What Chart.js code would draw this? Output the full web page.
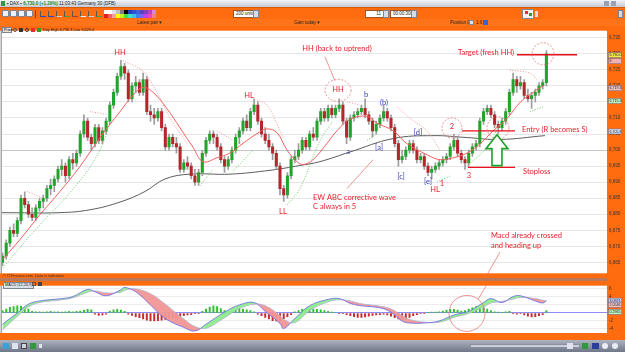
<!DOCTYPE html>
<html>
<head>
<meta charset="utf-8">
<title>DAX 30s</title>
<script src="https://cdn.jsdelivr.net/npm/chart.js@4.4.1/dist/chart.umd.min.js"></script>
<style>
body{margin:0;width:625px;height:352px;overflow:hidden;background:#ff6c10;font-family:"Liberation Sans",Arial,sans-serif;position:relative}
div,span,canvas{position:absolute;box-sizing:border-box}
.t{font-size:4.5px;line-height:5px;white-space:nowrap;color:#222}
.ico{width:7px;height:7px;background:#eef0f6;border:1px solid #7d8496;border-radius:1px}
.box{background:#fff;border:1px solid #9a5522;font-size:4.5px;line-height:6px;padding-left:2px;color:#222;white-space:nowrap}
.drop{width:6px;height:8px;background:#d8dce6;border:1px solid #7d8496}
</style>
</head>
<body>
<div style="left:0;top:0;width:625px;height:7px;background:linear-gradient(#f2f4f8,#c4cad6)">
  <span style="left:1px;top:1px;width:4px;height:5px;background:#2f9a3a"></span>
  <span class="t" style="left:7px;top:1px">&#9642; DAX &#9642; <b style="color:#1b8c2a">6,730.0 (+1.29%)</b> 11:03:43 Germany 30 (DFB)</span>
  <span style="left:604px;top:1px;width:5px;height:5px;background:#9aa2b2"></span>
  <span style="left:611px;top:1px;width:5px;height:5px;background:#9aa2b2"></span>
</div>
<div id="toolbar" style="left:0;top:7px;width:625px;height:12px;background:#ff6c10;border-top:1px solid #d85a00"></div>
<div style="left:0;top:19px;width:625px;height:7px;background:#ff7418">
  <span class="t" style="left:137px;top:1px">Latest pair &#9662;</span>
  <span class="t" style="left:294px;top:1px">Gain today &#9662;</span>
  <span class="t" style="left:450px;top:1px">Position 0</span>
  <span style="left:469px;top:1px;width:5px;height:5px;background:#dfe3ee;border:1px solid #7d8496"></span>
  <span class="t" style="left:476px;top:1px">1:6</span>
  <span style="left:483px;top:1px;width:5px;height:5px;background:#3a62c8"></span>
</div>

<canvas id="price" width="625" height="252" style="left:0;top:26px"></canvas>
<div style="left:0;top:278px;width:607px;height:3px;background:#b9785a"></div>
<canvas id="macd" width="625" height="59" style="left:0;top:281px"></canvas>

<div style="left:2px;top:27px;width:10px;height:6px;background:#dde1ea;border:1px solid #7d8496;font-size:3.8px;line-height:4px;padding-left:1px">Price</div>
<span style="left:13px;top:28px;width:4px;height:4px;border:1px solid #555;border-radius:2px"></span>
<span style="left:19px;top:28px;width:4px;height:4px;background:#333"></span>
<span style="left:25px;top:28px;width:4px;height:4px;border:1px solid #333;border-radius:2px"></span>
<span style="left:31px;top:28px;width:4px;height:4px;background:#e03030"></span>
<span style="left:37px;top:28px;width:4px;height:4px;background:#2aa02a"></span>
<span class="t" style="left:43px;top:28px;font-size:3.8px">Day High 6,736.3 Low 6,629.4</span>
<span class="t" style="left:3px;top:274px;font-size:3.8px;color:#333">&#169; IT-Finance.com. Data is indicative</span>
<span class="t" style="left:3px;top:282px;font-size:3.8px;background:#dde1ea;border:1px solid #7d8496;padding:0 1px">MACD (12,26,9)</span>
<span style="left:32px;top:282px;width:4px;height:4px;border:1px solid #555"></span>
<span style="left:38px;top:282px;width:4px;height:4px;background:#444"></span>

<div id="status" style="left:0;top:340px;width:625px;height:12px;background:linear-gradient(#aeb3c0,#6f7688)">
  <span style="left:3px;top:3px;width:6px;height:6px;background:#3aa0d8"></span>
  <span style="left:12px;top:3px;width:6px;height:6px;background:#dfe3ee"></span>
  <span style="left:21px;top:3px;width:6px;height:6px;background:#cfd3de;border:1px solid #444"></span>
  <span style="left:30px;top:3px;width:6px;height:6px;background:#2f9a3a"></span>
  <span style="left:39px;top:4px;width:3px;height:4px;background:#dfe3ee"></span>
  <span style="left:470px;top:4px;width:110px;height:4px;background:#c9ced9;border:1px solid #8a90a0"></span>
  <span style="left:567px;top:3px;width:6px;height:6px;background:#dfe3ee"></span>
  <span style="left:582px;top:3px;width:6px;height:6px;background:#2f9a3a"></span>
  <span style="left:592px;top:3px;width:7px;height:6px;background:#2a3f9a"></span>
  <span style="left:602px;top:3px;width:6px;height:6px;background:#e8ecf4;border-radius:3px"></span>
  <span style="left:612px;top:3px;width:6px;height:6px;background:#e8ecf4;border-radius:3px"></span>
</div>

<script>
Chart.defaults.font.family = '"Liberation Sans", Arial, sans-serif';
Chart.defaults.animation = false;

// 30 second candles, time in minutes after 09:00
const firstBar = 52, barStep = 0.5;
const opens = [
  6665,6667,6671,6675,6674,6678,6685,6683,6680,6679, 6682,6684,6685,6688,6689,6691,6694,6695,6692,6697,
  6696,6699,6705,6709,6704,6702,6707,6703,6706,6709, 6714,6718,6723,6726,6724,6716,6720,6721,6718,6722,
  6712,6711,6710,6712,6707,6701,6704,6702,6701,6694, 6696,6695,6692,6690,6693,6699,6703,6705,6704,6701,
  6697,6695,6697,6700,6704,6706,6709,6707,6712,6714, 6709,6705,6703,6701,6699,6695,6688,6686,6692,6697,
  6698,6700,6703,6701,6705,6704,6709,6712,6710,6713, 6711,6713,6714,6709,6704,6710,6711,6712,6713,6711,
  6709,6706,6708,6710,6712,6710,6707,6702,6697,6698, 6700,6702,6700,6697,6698,6695,6693,6694,6695,6696,
  6697,6698,6701,6703,6699,6697,6696,6699,6701,6702, 6709,6712,6713,6711,6708,6707,6709,6712,6718,6722,
  6720,6721,6717,6716,6717,6718,6720,6721];
const highs = [
  6668,6672,6676,6677,6679,6686,6687,6684,6682,6683, 6685,6686,6689,6691,6692,6695,6697,6696,6698,6699,
  6700,6706,6711,6710,6705,6708,6708,6707,6710,6715, 6719,6724,6728,6727,6725,6721,6723,6722,6724,6723,
  6714,6713,6713,6713,6708,6705,6705,6704,6702,6697, 6698,6696,6694,6694,6700,6704,6706,6706,6705,6702,
  6698,6698,6701,6705,6707,6710,6711,6713,6716,6715, 6710,6707,6705,6702,6700,6696,6689,6693,6698,6700,
  6702,6704,6704,6706,6707,6710,6713,6713,6714,6714, 6714,6716,6715,6710,6711,6712,6713,6714,6716,6712,
  6710,6709,6711,6714,6713,6711,6708,6703,6700,6701, 6703,6703,6701,6699,6699,6696,6695,6696,6697,6698,
  6699,6702,6705,6704,6700,6698,6700,6702,6703,6710, 6713,6714,6714,6712,6709,6710,6713,6719,6724,6723,
  6723,6722,6719,6718,6719,6721,6722,6731];
const lows = [
  6664,6666,6670,6673,6673,6677,6682,6679,6678,6678, 6681,6682,6684,6686,6687,6690,6692,6690,6691,6694,
  6695,6698,6704,6703,6700,6701,6702,6702,6705,6708, 6713,6717,6722,6722,6715,6715,6718,6717,6717,6711,
  6709,6708,6709,6706,6700,6700,6701,6699,6693,6693, 6694,6691,6689,6689,6692,6698,6702,6702,6700,6696,
  6693,6694,6696,6699,6702,6705,6706,6706,6711,6708, 6704,6702,6700,6697,6694,6686,6684,6685,6691,6696,
  6697,6699,6700,6700,6703,6703,6708,6709,6709,6710, 6710,6712,6708,6702,6703,6709,6710,6711,6710,6708,
  6704,6705,6707,6709,6709,6706,6701,6695,6696,6697, 6699,6699,6696,6696,6694,6692,6691,6693,6694,6695,
  6696,6697,6700,6698,6696,6694,6695,6698,6700,6701, 6708,6711,6710,6707,6705,6706,6708,6711,6717,6718,
  6719,6716,6715,6713,6715,6717,6719,6720];
const closes = [
  6667,6671,6675,6674,6678,6685,6683,6680,6679,6682, 6684,6685,6688,6689,6691,6694,6695,6692,6697,6696,
  6699,6705,6709,6704,6702,6707,6703,6706,6709,6714, 6718,6723,6726,6724,6716,6720,6721,6718,6722,6712,
  6711,6710,6712,6707,6701,6704,6702,6701,6694,6696, 6695,6692,6690,6693,6699,6703,6705,6704,6701,6697,
  6695,6697,6700,6704,6706,6709,6707,6712,6714,6709, 6705,6703,6701,6699,6695,6688,6686,6692,6697,6698,
  6700,6703,6701,6705,6704,6709,6712,6710,6713,6711, 6713,6714,6709,6704,6710,6711,6712,6713,6711,6709,
  6706,6708,6710,6712,6710,6707,6702,6697,6698,6700, 6702,6700,6697,6698,6695,6693,6694,6695,6696,6697,
  6698,6701,6703,6699,6697,6696,6699,6701,6702,6709, 6712,6713,6711,6708,6707,6709,6712,6718,6722,6720,
  6721,6717,6716,6717,6718,6720,6721,6730];
const macdHist = [
  0.6,1.0,1.4,1.6,1.8,1.7,1.4,1.0, 0.4,0.3,0.3,0.2,0.3,0.4,0.3,0.3,0.2,0.3,0.4,0.3,0.4,0.5,
  0.7,0.9,0.8, -0.3,-0.6,-0.5,-0.3, 0.5,0.8,0.9,0.7,0.4,
  -0.3,-0.6,-0.9,-1.2,-1.5,-1.8,-2.0,-2.0,-1.9,-1.8,-1.6,-1.4,-1.3,-1.1,-0.9,-0.7,-0.5,-0.4,-0.2,-0.1,
  0.4,1.0,1.5,1.8,1.6,1.1,0.6, 0.5,0.8,1.0,1.1,1.0,0.8,0.6,0.3,
  -0.3,-0.7,-1.1,-1.5,-1.9,-2.0,-1.8,-1.4,-0.9,-0.4, 0.3,0.6,0.9,1.1,1.1,1.0,0.9,0.8,0.6,0.4,0.2,
  0.1,-0.1,-0.2, -0.4,-0.7,-0.9,-1.1,-1.1,-1.0,-0.8,-0.6,-0.5,-0.4, -0.3,-0.5,-0.8,
  -1.2,-1.5,-1.6,-1.4,-1.1,-0.7,-0.4, -0.2,-0.1,0.1,0.2,0.2,0.3, 0.5,0.7,0.9,0.9,0.7,0.5,
  0.6,1.0,1.3,1.6,1.5,1.3,1.0,0.6, 0.3,0.2,0.1,0.3,0.4, -0.2,-0.3,-0.2, -0.5,-0.8,-1.0,-0.9,-0.7,-0.4, 0.6];

// indicator lines: [minute, value]
const maFast = [[52.07,6666.1],[54.36,6672.1],[57.07,6679.9],[59.77,6687.1],[62.47,6694.9],[65.18,6703.9],[67.88,6712],
  [69.64,6717.1],[70.99,6719.5],[72.34,6718],[74.23,6712.9],[75.99,6706.9],[77.74,6700.9],[79.09,6696.4],[80.99,6697.6],
  [82.74,6699.1],[84.5,6702.1],[86.39,6705.1],[87.74,6706.6],[89.09,6705.4],[90.45,6700],[91.8,6696.4],[92.61,6695.5],
  [93.96,6697],[95.85,6702.1],[97.2,6706],[98.96,6709.6],[101.3,6710.5],[102.6,6708.4],[104.8,6706],[106.6,6702.1],
  [109.4,6698.5],[111.1,6697],[112.9,6697.6],[114.8,6699.1],[116.6,6702.1],[118.3,6706],[120.2,6709.9],[122,6715],
  [123.7,6718],[125.1,6720.1]];
const maSlow = [[51.93,6680.5],[59.77,6680.5],[63.82,6681.4],[67.88,6683.8],[71.26,6687.1],[73.96,6691],[77.34,6692.5],
  [82.74,6692.5],[88.15,6693.7],[92.2,6695.2],[94.9,6696.4],[98.96,6699.4],[104.8,6703.6],[110.2,6704.5],[114.8,6703.9],
  [119.2,6703.3],[125.3,6704.5]];
const sarBelow = [
  [[52.07,6663.4],[55.04,6671.5],[57.74,6678.4],[60.45,6685],[63.15,6692.5],[65.18,6700],[66.5,6708]],
  [[78.69,6688.9],[80.45,6694]],
  [[83.15,6693.4],[85.85,6700]],
  [[90.45,6682.9],[92.2,6688],[94.91,6703],[96.66,6709]],
  [[101.26,6703],[102.61,6705.1]],
  [[110.72,6690.1],[112.47,6691.9]],
  [[114.77,6694.9],[117.47,6700.9],[119.23,6708.1]],
  [[123.28,6712],[125.04,6713.5]]];
const sarAbove = [
  [[55.31,6687.1],[57.47,6685]],
  [[63.82,6712],[66.12,6711.1]],
  [[68.28,6727.9],[70.99,6724.6],[72.88,6718],[74.64,6709.9],[76.93,6702.1]],
  [[80.99,6706],[83.15,6703]],
  [[86.39,6715.6],[87.74,6714.1],[89.09,6708.1],[89.91,6703.9]],
  [[98.55,6715],[100.3,6714.1]],
  [[105.3,6713.5],[107.07,6709.9],[109.36,6706],[111.12,6700]],
  [[120.58,6724.9],[123.28,6724],[124.23,6721.9]]];
const targetLevel = [[121.53,6729.7],[129.64,6729.7]];
const entryLevel = [[114.09,6706],[121.26,6706]];
const stopLevel = [[114.9,6694.6],[121.26,6694.6]];

const macdTimes = [52,54,55.5,57,60,61.5,63.5,64.5,66,68,68.5,70,72,74,76.5,78,79.5,82,84,86,87.5,89.5,90,91.5,93.5,
  96,97.5,99,100.5,103,104.5,106,107,109,111,113,115,117,118,119.5,121,122,124,125,125.5];
const macdLine = [-2.8,0.0,2.2,3.0,3.6,4.1,5.9,5.3,4.3,5.8,6.4,5.3,2.0,-1.4,-3.6,-4.5,-2.8,0.2,2.0,2.6,0.4,-2.6,-3.9,-1.4,1.8,
  3.4,3.6,2.4,1.8,1.3,0.2,-2.0,-2.5,-2.5,-2.0,-0.5,0.4,2.6,3.6,2.6,4.1,4.3,3.0,2.5,3.0];
const signalLine = [-4.2,-0.8,1.5,2.6,3.3,3.8,5.2,5.5,5.0,5.2,5.7,6.0,4.8,2.2,-1.5,-3.4,-3.8,-1.2,1.1,2.2,1.8,-0.6,-1.6,-2.4,0.6,
  2.8,3.3,3.0,2.3,1.7,1.0,-0.6,-1.6,-2.3,-2.3,-1.1,-0.1,1.5,2.5,2.9,3.5,3.9,3.6,3.2,3.1];

const viewMin = 51.93, viewMax = 133.69;
const ORANGE = '#ff6c10', RED = '#e8202c', BLUE = '#3c3cb4';

// chart notes (text, minute, price, colour, align)
const notes = [
  ['HH', 67.88, 6730.3, RED, 'center'], ['HL', 85.31, 6717.1, RED, 'center'], ['LL', 89.9, 6680.8, RED, 'center'],
  ['HH (back to uptrend)', 97.2, 6731.5, RED, 'center'], ['HH', 97.34, 6718.9, RED, 'center'],
  ['b', 101.12, 6717.4, BLUE, 'center'], ['(b)', 103.55, 6714.7, BLUE, 'center'], ['a', 98.69, 6699.4, BLUE, 'center'],
  ['[a]', 102.88, 6700.9, BLUE, 'center'], ['[d]', 108.15, 6705.4, BLUE, 'center'], ['[c]', 105.85, 6691.6, BLUE, 'center'],
  ['[e]', 109.5, 6690.1, BLUE, 'center'], ['1', 111.39, 6689.5, RED, 'center'], ['HL', 110.45, 6687.7, RED, 'center'],
  ['2', 112.74, 6707.2, RED, 'center'], ['3', 115.04, 6692.2, RED, 'center'],
  ['EW ABC corrective wave', 93.96, 6685.3, RED, 'left'], ['C always in 5', 93.96, 6682.3, RED, 'left'],
  ['Target (fresh HH)', 117.34, 6730.3, RED, 'center'], ['Entry (R becomes S)', 122.2, 6706.3, RED, 'left'],
  ['Stoploss', 122.34, 6693.4, RED, 'left'],
  ['Macd already crossed', 118.0, 6673.3, RED, 'left'], ['and heading up', 118.0, 6670.3, RED, 'left']];
const circles = [[97.34, 6718.6, 13, 11], [112.74, 6706.9, 10, 10], [118.96, 6706.9, 11, 11], [125.04, 6730, 11, 11]];
const pointers = [[95.57, 6729.1, 96.92, 6721.6], [98.55, 6688, 102.07, 6697], [119.23, 6668.2, 116.26, 6656.2]];
const arrowTip = [118.82, 6704.8];
const priceBadges = [[6729.6, '#f4e84a', '6,730.0'], [6727.7, '#f2b0b0', '6'], [6719.3, '#ecc4c4', '6,719.3'],
  [6715.3, '#bdf2bd', '6,715.3'], [6705.8, '#d8dcf0', '6,705.8']];
const macdBadges = [[3.1, '#c8ccf6', '3.0921'], [2.05, '#f4c4c4', '2.0546'], [0.3, '#bdf2bd', '0.2965']];

const barTimes = opens.map((_, i) => firstBar + i * barStep);
const xy = arr => arr.map(([x, y]) => ({x, y}));
const hhmm = v => {
  const m = Math.round(v);
  return String(9 + Math.floor(m / 60)).padStart(2, '0') + ':' + String(m % 60).padStart(2, '0');
};

const frame = {
  id: 'frame',
  beforeDraw(chart) {
    const {ctx, chartArea: a, width, height} = chart;
    ctx.save();
    ctx.fillStyle = ORANGE;
    ctx.fillRect(0, 0, width, height);
    ctx.fillStyle = '#fff';
    ctx.fillRect(a.left, a.top, a.right - a.left, a.bottom - a.top);
    ctx.fillStyle = '#d4d4d4';
    ctx.fillRect(0, a.top, a.left, a.bottom - a.top);
    ctx.fillStyle = '#888';
    ctx.fillRect(a.left - 0.6, a.top, 0.6, a.bottom - a.top);
    ctx.restore();
  }
};

function badges(list) {
  return {
    id: 'badges',
    afterDraw(chart) {
      const {ctx, chartArea: a, scales: {y}} = chart;
      ctx.save();
      ctx.font = '3.6px "Liberation Sans"';
      ctx.textBaseline = 'middle';
      list.forEach(([v, fill, txt]) => {
        const py = y.getPixelForValue(v);
        ctx.fillStyle = fill;
        ctx.fillRect(a.right + 1.5, py - 2.5, 13, 5);
        ctx.strokeStyle = '#6c6c8c';
        ctx.lineWidth = 0.5;
        ctx.strokeRect(a.right + 1.5, py - 2.5, 13, 5);
        ctx.fillStyle = '#222';
        ctx.fillText(txt, a.right + 2.5, py + 0.2);
      });
      ctx.restore();
    }
  };
}

const priceNotes = {
  id: 'priceNotes',
  afterDatasetsDraw(chart) {
    const {ctx, scales: {x, y}} = chart;
    const px = t => x.getPixelForValue(t), py = p => y.getPixelForValue(p);
    ctx.save();
    ctx.strokeStyle = '#e46a6a';
    ctx.lineWidth = 0.7;
    pointers.forEach(([t1, p1, t2, p2]) => {
      ctx.beginPath(); ctx.moveTo(px(t1), py(p1)); ctx.lineTo(px(t2), py(p2)); ctx.stroke();
    });
    ctx.setLineDash([2, 1.5]);
    circles.forEach(([t, p, rx, ry]) => {
      ctx.beginPath(); ctx.ellipse(px(t), py(p), rx, ry, 0, 0, Math.PI * 2); ctx.stroke();
    });
    ctx.setLineDash([]);
    // hollow green arrow under the entry
    const ax = px(arrowTip[0]), ay = py(arrowTip[1]);
    const shape = [[0, 0], [11, 14], [5, 14], [5, 31], [-5, 31], [-5, 14], [-11, 14]];
    ctx.beginPath();
    shape.forEach(([dx, dy], i) => i ? ctx.lineTo(ax + dx, ay + dy) : ctx.moveTo(ax + dx, ay + dy));
    ctx.closePath();
    ctx.fillStyle = '#fff';
    ctx.fill();
    ctx.strokeStyle = '#1fa02a';
    ctx.lineWidth = 1.6;
    ctx.stroke();
    ctx.font = '7.5px Lato';
    ctx.textBaseline = 'middle';
    notes.forEach(([txt, t, p, color, align]) => {
      ctx.fillStyle = color;
      ctx.textAlign = align;
      ctx.fillText(txt, px(t), py(p));
    });
    ctx.restore();
  }
};

const macdNotes = {
  id: 'macdNotes',
  afterDatasetsDraw(chart) {
    const {ctx, scales: {x, y}} = chart;
    ctx.save();
    ctx.strokeStyle = '#e46a6a';
    ctx.lineWidth = 0.7;
    ctx.beginPath();
    ctx.moveTo(x.getPixelForValue(117.37), y.getPixelForValue(6.82));
    ctx.lineTo(x.getPixelForValue(116.26), y.getPixelForValue(3.41));
    ctx.stroke();
    ctx.beginPath();
    ctx.arc(x.getPixelForValue(114.77), y.getPixelForValue(-0.1), 18, 0, Math.PI * 2);
    ctx.stroke();
    ctx.restore();
  }
};

const lineSet = (data, color, width, extra) => Object.assign({
  type: 'line', data: xy(data), borderColor: color, borderWidth: width, pointRadius: 0, tension: 0.4, fill: false
}, extra || {});

new Chart(document.getElementById('price'), {
  type: 'line',
  data: {
    datasets: [
      lineSet(maSlow, '#5e5e5e', 1, {order: 6}),
      {type: 'bar', data: barTimes.map((t, i) => ({x: t, y: [lows[i], highs[i]]})), backgroundColor: '#9c9c9c',
        barThickness: 1, grouped: false, order: 5},
      {type: 'bar', data: barTimes.map((t, i) => ({x: t, y: [opens[i], closes[i]]})), grouped: false, order: 4,
        barThickness: 2.4,
        backgroundColor: c => closes[c.dataIndex] >= opens[c.dataIndex] ? '#22a32a' : '#b3262b'},
      lineSet(maFast, '#f26060', 1, {order: 3}),
      ...sarBelow.map(s => lineSet(s, '#6ccc6c', 1, {borderDash: [1, 1.6], tension: 0.3, order: 2})),
      ...sarAbove.map(s => lineSet(s, '#f29a9a', 1, {borderDash: [1, 1.6], tension: 0.3, order: 2})),
      lineSet(targetLevel, '#e8101a', 1.3, {tension: 0, order: 1}),
      lineSet(entryLevel, '#e8101a', 1.3, {tension: 0, order: 1}),
      lineSet(stopLevel, '#e8101a', 1.3, {tension: 0, order: 1})
    ]
  },
  options: {
    responsive: false, animation: false, events: [],
    layout: {padding: {left: 2, top: 0, right: 0, bottom: 0}},
    plugins: {legend: {display: false}, tooltip: {enabled: false}},
    scales: {
      x: {type: 'linear', min: viewMin, max: viewMax, display: false, offset: false},
      y: {
        position: 'right', min: 6661.6, max: 6737.2,
        afterFit: s => { s.width = 18; },
        ticks: {stepSize: 5, includeBounds: false, font: {size: 4.5}, color: '#333', padding: 2,
          callback: v => v.toLocaleString('en-US')},
        grid: {color: c => c.tick && c.tick.value === 6700 ? '#c6c6c6' : '#e6e6e6', drawTicks: false},
        border: {display: false}
      }
    }
  },
  plugins: [frame, priceNotes, badges(priceBadges)]
});

new Chart(document.getElementById('macd'), {
  type: 'line',
  data: {
    datasets: [
      {type: 'bar', data: barTimes.map((t, i) => ({x: t, y: macdHist[i]})), grouped: false, barThickness: 1.3,
        backgroundColor: c => macdHist[c.dataIndex] >= 0 ? '#2fc02f' : '#c8292c', order: 3},
      {type: 'line', data: macdTimes.map((t, i) => ({x: t, y: macdLine[i]})), borderColor: '#7474e6', borderWidth: 0.9,
        pointRadius: 0, tension: 0.4, order: 1,
        fill: {target: 2, above: 'rgba(140,236,140,0.95)', below: 'rgba(240,150,150,0.95)'}},
      {type: 'line', data: macdTimes.map((t, i) => ({x: t, y: signalLine[i]})), borderColor: '#a4a4ee', borderWidth: 0.8,
        pointRadius: 0, tension: 0.4, fill: false, order: 2}
    ]
  },
  options: {
    responsive: false, animation: false, events: [],
    layout: {padding: {left: 2, top: 0, right: 0, bottom: 0}},
    plugins: {legend: {display: false}, tooltip: {enabled: false}},
    scales: {
      x: {
        type: 'linear', min: viewMin, max: viewMax, offset: false,
        afterFit: s => { s.height = 7; },
        ticks: {stepSize: 3, includeBounds: false, autoSkip: false, maxRotation: 0, padding: 1, color: '#111',
          font: c => ({size: 5, weight: c.tick && c.tick.value % 60 === 0 ? 'bold' : 'normal'}),
          callback: v => hhmm(v)},
        grid: {display: false}, border: {display: false}
      },
      y: {
        position: 'right', min: -5.0, max: 6.82,
        afterFit: s => { s.width = 18; },
        ticks: {stepSize: 2, includeBounds: false, font: {size: 4.5}, color: '#333', padding: 2},
        grid: {color: c => c.tick && c.tick.value === 0 ? '#8c8cf2' : '#ececec', drawTicks: false},
        border: {display: false}
      }
    }
  },
  plugins: [frame, macdNotes, badges(macdBadges)]
});

// toolbar chrome
const bar = document.getElementById('toolbar');
const add = (html) => bar.insertAdjacentHTML('beforeend', html);
[2, 10, 18, 26].forEach(l => add(`<span class="ico" style="left:${l}px;top:2px"></span>`));
add('<span style="left:35px;top:2px;width:1px;height:8px;background:#a04000"></span>');
[40, 48, 56, 64, 72, 80, 88, 96].forEach((l, i) =>
  add(`<span style="left:${l}px;top:3px;width:6px;height:6px;border-bottom:1px solid ${['#3040c0','#3040c0','#d0d0d0','#40a040','#a04040','#f0f0f0','#d0d0d0','#40a040'][i]};border-left:1px solid #555"></span>`));
const swatches = ['#fff','#fff','#e0e0e0','#c0c0c0','#808080','#000','#2040c0','#3050d0','#4060e0','#6040c0','#8040c0','#c040c0','#e080e0',
  '#e02020','#f06060','#f0a0a0','#ffff00','#c0f020','#40e040','#40e0c0','#40c0f0','#4080f0','#8060f0','#c040f0','#f040c0','#f08080'];
swatches.forEach((c, i) =>
  add(`<span style="left:${104 + (i % 13) * 4}px;top:${i < 13 ? 2 : 6}px;width:4px;height:4px;background:${c}"></span>`));
add('<span class="box" style="left:233px;top:2px;width:21px;height:8px">200 units</span><span class="drop" style="left:253px;top:2px"></span>');
add('<span class="box" style="left:365px;top:2px;width:19px;height:8px;text-align:right;padding-right:2px">11</span><span class="drop" style="left:383px;top:2px"></span>');
add('<span class="box" style="left:390px;top:2px;width:22px;height:8px">00:00:30s</span><span class="drop" style="left:411px;top:2px"></span>');
add('<span style="left:522px;top:1px;width:12px;height:10px;background:#f4f4f4;border:1px solid #888"></span>');
add('<span style="left:525px;top:3px;width:3px;height:3px;background:#e03030"></span><span style="left:529px;top:5px;width:3px;height:3px;background:#2aa02a"></span>');
add('<span style="left:535px;top:3px;width:3px;height:6px;background:#d8dce6"></span>');
add('<span style="left:618px;top:2px;width:5px;height:8px;background:#d8dce6;border:1px solid #7d8496"></span>');
</script>
</body>
</html>
